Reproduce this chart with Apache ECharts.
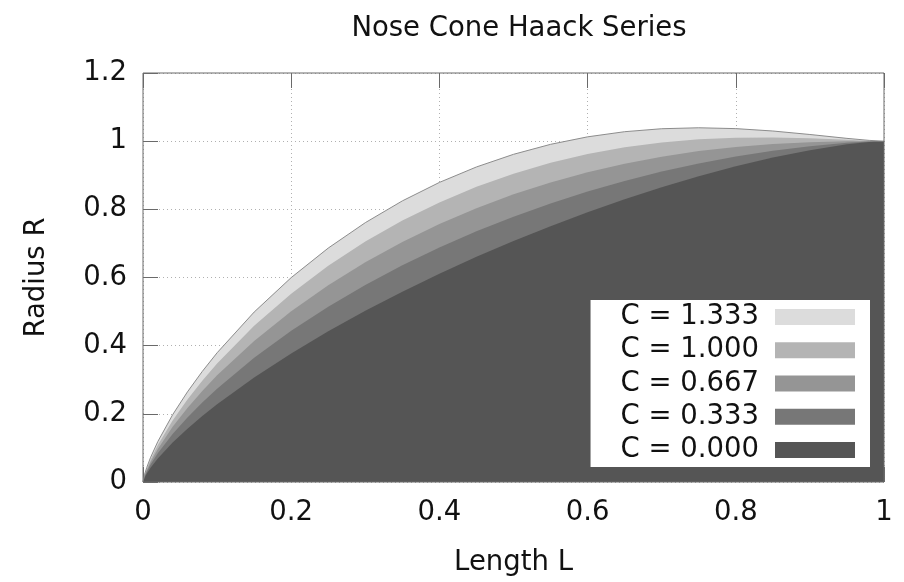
<!DOCTYPE html>
<html>
<head>
<meta charset="utf-8">
<script src="https://cdn.jsdelivr.net/npm/echarts@6/dist/echarts.min.js"></script>
<style>
html,body{margin:0;padding:0;background:#fff;}
#chart{width:904px;height:582px;}
</style>
</head>
<body>
<div id="chart"></div>
<script>
// Length positions (x/L)
var lengths = [0, 0.002, 0.005, 0.01, 0.02, 0.04, 0.06, 0.08, 0.1, 0.15, 0.2, 0.25, 0.3, 0.35, 0.4, 0.45, 0.5, 0.55, 0.6, 0.65, 0.7, 0.75, 0.8, 0.85, 0.9, 0.95, 0.98, 1];
// Radius R read for each C value
var radiusC1333 = [0, 0.0213, 0.0423, 0.0710, 0.1187, 0.1974, 0.2645, 0.3244, 0.3791, 0.4986, 0.5997, 0.6864, 0.7609, 0.8248, 0.8790, 0.9243, 0.9614, 0.9907, 1.0127, 1.0278, 1.0365, 1.0393, 1.0368, 1.0298, 1.0196, 1.0082, 1.0023, 1];
var radiusC1000 = [0, 0.0195, 0.0386, 0.0648, 0.1085, 0.1805, 0.2421, 0.2972, 0.3476, 0.4583, 0.5526, 0.6342, 0.7053, 0.7670, 0.8203, 0.8660, 0.9046, 0.9365, 0.9622, 0.9820, 0.9964, 1.0056, 1.0103, 1.0109, 1.0083, 1.0038, 1.0011, 1];
var radiusC0667 = [0, 0.0174, 0.0346, 0.0580, 0.0971, 0.1619, 0.2174, 0.2672, 0.3129, 0.4140, 0.5011, 0.5774, 0.6448, 0.7044, 0.7571, 0.8035, 0.8440, 0.8790, 0.9089, 0.9340, 0.9545, 0.9708, 0.9830, 0.9916, 0.9969, 0.9995, 0.9999, 1];
var radiusC0333 = [0, 0.0151, 0.0300, 0.0503, 0.0843, 0.1407, 0.1894, 0.2333, 0.2738, 0.3642, 0.4435, 0.5142, 0.5779, 0.6356, 0.6879, 0.7354, 0.7785, 0.8173, 0.8522, 0.8832, 0.9107, 0.9345, 0.9549, 0.9719, 0.9853, 0.9950, 0.9988, 1];
var radiusC0000 = [0, 0.0123, 0.0245, 0.0411, 0.0691, 0.1158, 0.1565, 0.1936, 0.2281, 0.3067, 0.3773, 0.4422, 0.5023, 0.5585, 0.6112, 0.6606, 0.7071, 0.7507, 0.7915, 0.8295, 0.8647, 0.8969, 0.9261, 0.9518, 0.9736, 0.9906, 0.9976, 1];

var seriesNames = ['C = 1.333', 'C = 1.000', 'C = 0.667', 'C = 0.333', 'C = 0.000'];
var seriesValues = [radiusC1333, radiusC1000, radiusC0667, radiusC0333, radiusC0000];
var seriesColors = ['#dcdcdc', '#b4b4b4', '#959595', '#777777', '#555555'];

var FONT = 'DejaVu Sans';

function pairs(ys) {
  return lengths.map(function (x, i) { return [x, ys[i]]; });
}

var series = seriesNames.map(function (name, k) {
  return {
    name: name,
    type: 'line',
    xAxisIndex: 0,
    yAxisIndex: 0,
    data: pairs(seriesValues[k]),
    showSymbol: false,
    smooth: false,
    color: seriesColors[k],
    lineStyle: k === 0 ? { color: '#8c8c8c', width: 1 } : { width: 0, opacity: 0 },
    areaStyle: { color: seriesColors[k], opacity: 1, origin: 'start' },
    silent: true,
    animation: false
  };
});

var chart = echarts.init(document.getElementById('chart'), null, { renderer: 'canvas' });
chart.setOption({
  animation: false,
  backgroundColor: '#ffffff',
  title: {
    text: 'Nose Cone Haack Series',
    left: 514,
    top: 10,
    textAlign: 'center',
    textStyle: { fontFamily: FONT, fontSize: 27.5, fontWeight: 'normal', color: '#111' }
  },
  grid: {
    left: 143, top: 73, width: 741, height: 410,
    show: true, borderColor: '#6a6a6a', borderWidth: 1, backgroundColor: 'transparent', z: 10
  },
  legend: {
    data: seriesNames,
    orient: 'vertical',
    right: 34,
    top: 300,
    align: 'right',
    itemWidth: 80,
    itemHeight: 16,
    itemGap: 5.25,
    icon: 'rect',
    backgroundColor: '#ffffff',
    padding: [3, 15, 3, 30],
    textStyle: { fontFamily: FONT, fontSize: 27.5, color: '#111', lineHeight: 24, padding: [0, 11, 0, 0] },
    selectedMode: false
  },
  xAxis: [{
    type: 'value', min: 0, max: 1, interval: 0.2,
    name: 'Length L', nameLocation: 'middle', nameGap: 67,
    nameTextStyle: { fontFamily: FONT, fontSize: 27.5, color: '#111' },
    axisLine: { show: false },
    axisTick: { show: true, inside: true, length: 15, lineStyle: { color: '#6a6a6a' } },
    axisLabel: { fontFamily: FONT, fontSize: 27.5, color: '#111', margin: 17 },
    splitLine: { show: true, lineStyle: { color: '#b0b0b0', type: [1, 3], width: 1 } }
  }, {
    type: 'value', min: 0, max: 1, interval: 0.2, position: 'top',
    axisLine: { show: false },
    axisTick: { show: true, inside: true, length: 15, lineStyle: { color: '#6a6a6a' } },
    axisLabel: { show: false },
    splitLine: { show: false }
  }],
  yAxis: [{
    type: 'value', min: 0, max: 1.2, interval: 0.2,
    name: 'Radius R', nameLocation: 'middle', nameGap: 92, nameRotate: 90,
    nameTextStyle: { fontFamily: FONT, fontSize: 27.5, color: '#111' },
    axisLine: { show: false },
    axisTick: { show: true, inside: true, length: 15, lineStyle: { color: '#6a6a6a' } },
    axisLabel: { fontFamily: FONT, fontSize: 27.5, color: '#111', margin: 16 },
    splitLine: { show: true, lineStyle: { color: '#b0b0b0', type: [1, 3], width: 1 } }
  }],
  series: series
});
</script>
</body>
</html>
